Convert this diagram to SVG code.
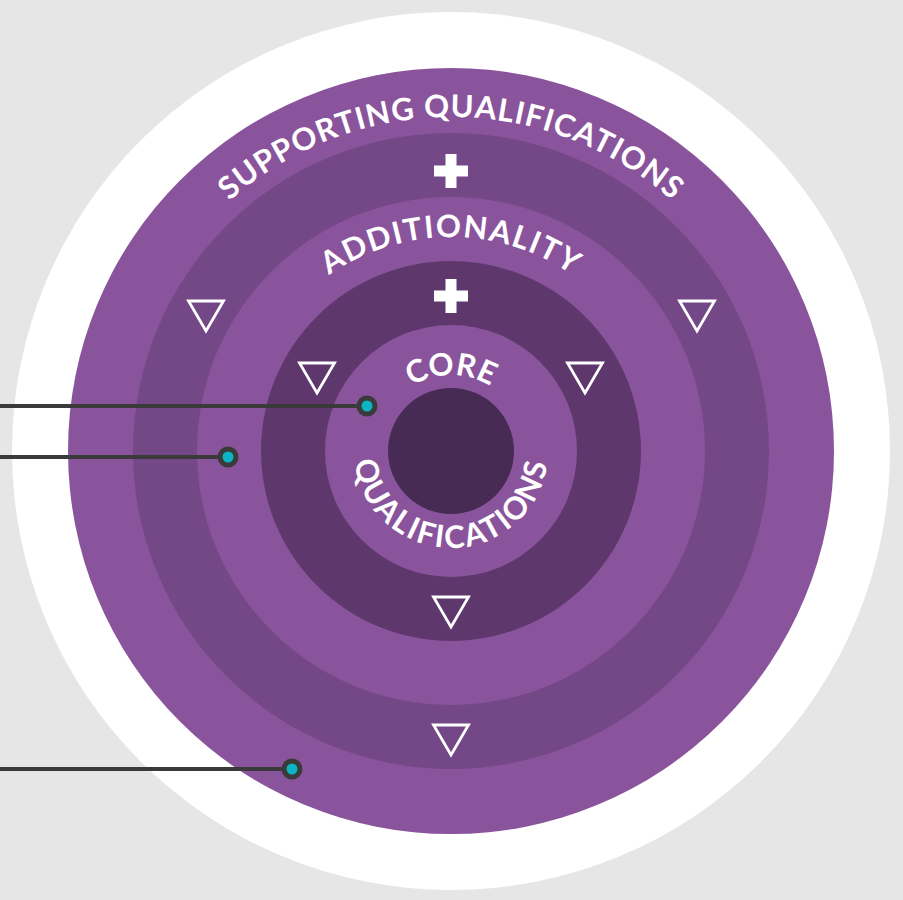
<svg xmlns="http://www.w3.org/2000/svg" xmlns:xlink="http://www.w3.org/1999/xlink" width="903" height="900" viewBox="0 0 903 900">
<style>
.lbl{font-family:Lato,"Liberation Sans",sans-serif;font-weight:700;fill:#fff;font-size:31px;letter-spacing:1px}
.tri{fill:none;stroke:#fff;stroke-width:2.8;stroke-linejoin:miter}
.plus{fill:#fff}
.line{stroke:#3a3a3a;stroke-width:4;fill:none}
.dotO{fill:#3a3a3a}
.dotI{fill:#0db3c3}
</style>
<defs>
<path id="tri" d="M-17.5,-15 L17.5,-15 L0,15 Z"/>
<path id="plus" d="M-5.5,-17 H5.5 V-5.5 H17 V5.5 H5.5 V17 H-5.5 V5.5 H-17 V-5.5 H-5.5 Z"/>
<path id="pSup" d="M117,451 A334,334 0 0 1 785,451"/>
<path id="pAdd" d="M237,451 A214,214 0 0 1 665,451"/>
<path id="pCore" d="M375,451 A76,76 0 0 1 527,451"/>
<path id="pQual" d="M354,451 A97,97 0 0 0 548,451"/>
</defs>
<rect x="0" y="0" width="903" height="900" fill="#e6e6e6"/>
<circle cx="451" cy="451" r="439" fill="#fff"/>
<g id="ring-supporting">
<circle cx="451" cy="451" r="383" fill="#8a549c"/>
<text class="lbl"><textPath href="#pSup" startOffset="50%" text-anchor="middle">SUPPORTING QUALIFICATIONS</textPath></text>
</g>
<g id="ring-2">
<circle cx="451" cy="451" r="318" fill="#744887"/>
<use href="#plus" class="plus" x="451" y="171"/>
<use href="#tri" class="tri" x="206" y="316"/>
<use href="#tri" class="tri" x="697" y="316"/>
<use href="#tri" class="tri" x="451" y="740"/>
</g>
<g id="ring-additionality">
<circle cx="451" cy="451" r="254" fill="#8a549c"/>
<text class="lbl" style="letter-spacing:1.5px"><textPath href="#pAdd" startOffset="50%" text-anchor="middle">ADDITIONALITY</textPath></text>
</g>
<g id="ring-4">
<circle cx="451" cy="451" r="190" fill="#5e386c"/>
<use href="#plus" class="plus" x="451" y="296"/>
<use href="#tri" class="tri" x="317" y="378"/>
<use href="#tri" class="tri" x="585" y="378"/>
<use href="#tri" class="tri" x="451" y="612"/>
</g>
<g id="ring-core">
<circle cx="451" cy="451" r="126" fill="#8a549c"/>
<text class="lbl" style="letter-spacing:0px"><textPath href="#pCore" startOffset="50%" text-anchor="middle">CORE</textPath></text>
<text class="lbl" style="letter-spacing:2px"><textPath href="#pQual" startOffset="50%" text-anchor="middle">QUALIFICATIONS</textPath></text>
</g>
<g id="center">
<circle cx="451" cy="451" r="63" fill="#472b54"/>
</g>
<g id="connectors">
<line class="line" x1="0" y1="406" x2="367" y2="406"/>
<circle class="dotO" cx="367" cy="406" r="10.5"/>
<circle class="dotI" cx="367" cy="406" r="5.5"/>
<line class="line" x1="0" y1="457" x2="228" y2="457"/>
<circle class="dotO" cx="228" cy="457" r="10.5"/>
<circle class="dotI" cx="228" cy="457" r="5.5"/>
<line class="line" x1="0" y1="769" x2="292" y2="769"/>
<circle class="dotO" cx="292" cy="769" r="10.5"/>
<circle class="dotI" cx="292" cy="769" r="5.5"/>
</g>
</svg>
